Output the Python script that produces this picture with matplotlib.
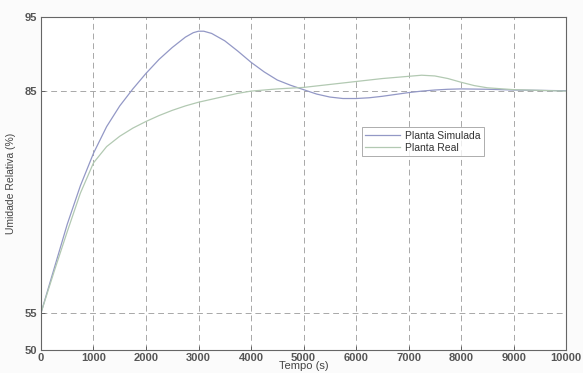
import matplotlib
matplotlib.use("Agg")
import matplotlib.pyplot as plt

# tempo (s)
t_sim = [0, 250, 500, 750, 1000, 1250, 1500, 1750, 2000, 2250, 2500, 2750,
         2900, 3000, 3100, 3250, 3500, 3750, 4000, 4250, 4500, 4750, 5000,
         5250, 5500, 5750, 6000, 6250, 6500, 6750, 7000, 7250, 7500, 7750,
         8000, 8500, 9000, 9500, 10000]
ur_sim = [55.0, 61.0, 67.0, 72.2, 76.6, 80.2, 83.0, 85.3, 87.4, 89.3, 90.9,
          92.3, 92.9, 93.1, 93.1, 92.8, 91.8, 90.4, 88.9, 87.6, 86.5, 85.8,
          85.2, 84.6, 84.2, 84.0, 84.0, 84.1, 84.3, 84.55, 84.8, 85.0, 85.15,
          85.25, 85.3, 85.25, 85.15, 85.1, 85.05]

t_real = [0, 250, 500, 750, 1000, 1250, 1500, 1750, 2000, 2250, 2500, 2750,
          3000, 3250, 3500, 3750, 4000, 4500, 5000, 5500, 6000, 6500, 7000,
          7250, 7500, 7750, 8000, 8250, 8500, 9000, 9500, 10000]
ur_real = [55.0, 60.6, 66.0, 71.2, 75.3, 77.5, 78.9, 80.0, 80.9, 81.7, 82.4,
           83.0, 83.5, 83.9, 84.3, 84.7, 85.0, 85.3, 85.5, 85.9, 86.3, 86.7,
           87.0, 87.15, 87.05, 86.7, 86.2, 85.75, 85.45, 85.2, 85.1, 85.0]

xticks = list(range(0, 10001, 1000))
yticks = [50, 55, 85, 95]

plt.rcParams["font.family"] = ["Liberation Sans", "DejaVu Sans"]

fig = plt.figure(figsize=(5.83, 3.73), dpi=100, facecolor="#fbfbfb")
ax = fig.add_axes([0.0703, 0.0617, 0.9007, 0.8923])
ax.set_facecolor("white")

ax.plot(t_sim, ur_sim, color="#9398c6", linewidth=0.9, label="Planta Simulada")
ax.plot(t_real, ur_real, color="#b2c9b2", linewidth=0.9, label="Planta Real")

ax.set_xlim(0, 10000)
ax.set_ylim(50, 95)
ax.set_xticks(xticks)
ax.set_yticks(yticks)
ax.grid(True, linestyle=(0, (6, 4)), color="#a8a8a8", linewidth=0.7)
ax.tick_params(direction="in", length=3, width=0.6, colors="#555555",
               labelsize=8)
ax.tick_params(axis="x", pad=2)
ax.tick_params(axis="y", pad=3)
for lab in ax.get_xticklabels() + ax.get_yticklabels():
    lab.set_fontweight("bold")
    lab.set_color("#555555")
for s in ax.spines.values():
    s.set_color("#666666")
    s.set_linewidth(0.8)

ax.set_xlabel("Tempo (s)", fontsize=8, color="#444444", labelpad=-1)
ax.set_ylabel("Umidade Relativa (%)", fontsize=7.5, color="#444444", labelpad=6)

leg = ax.legend(loc="upper left", bbox_to_anchor=(0.611, 0.67), fontsize=7.5,
                frameon=True, fancybox=False, borderpad=0.35, handlelength=3.3,
                handletextpad=0.5, labelspacing=0.2, borderaxespad=0)
leg.get_frame().set_edgecolor("#888888")
leg.get_frame().set_linewidth(0.6)
for txt in leg.get_texts():
    txt.set_color("#333333")

fig.savefig("out.png", dpi=100, facecolor=fig.get_facecolor())
